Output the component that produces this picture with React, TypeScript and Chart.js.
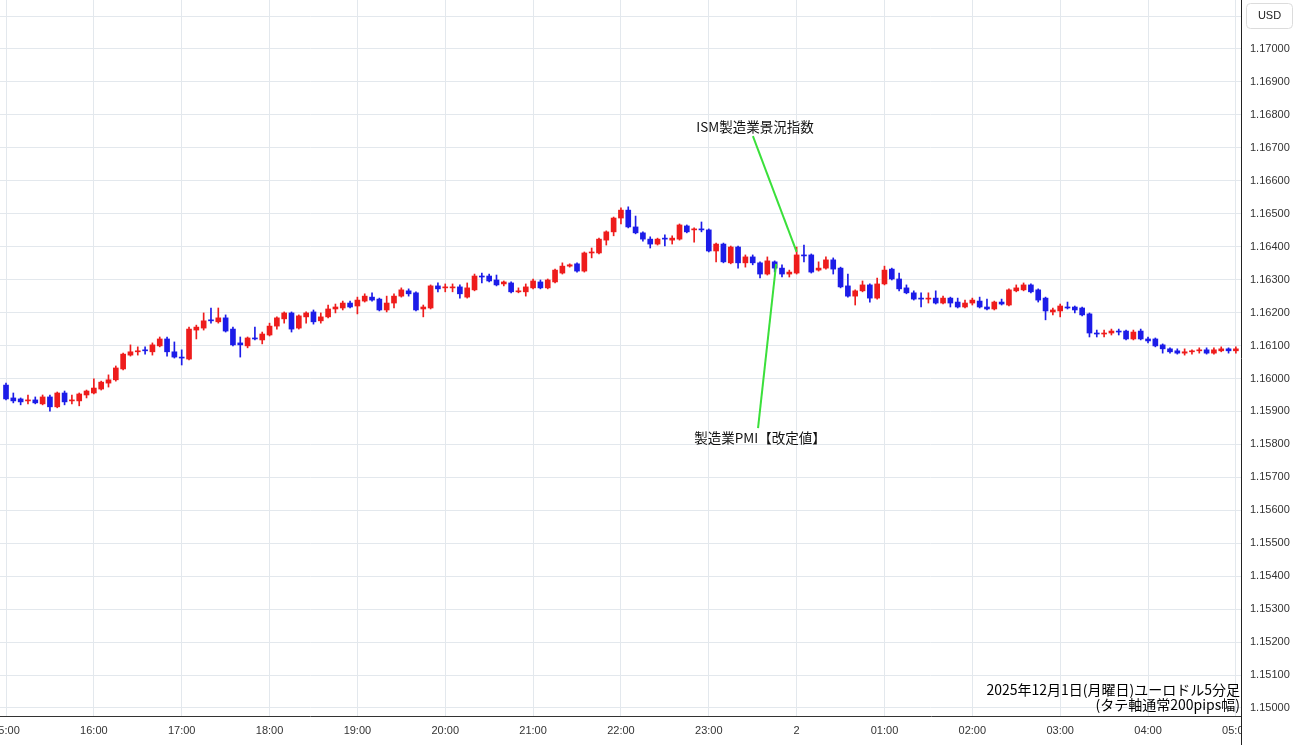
import { useEffect, useRef } from 'react';
import { Chart, registerables } from 'chart.js';

Chart.register(...registerables);

// EUR/USD 5-minute candles, 2025-12-01 15:00 -> 12-02 05:00 (index 0 = 15:00)
const opens = [
  1.15980, 1.15941, 1.15938, 1.15932, 1.15935, 1.15923, 1.15944, 1.15914, 1.15956, 1.15932, 1.15932, 1.15950,
  1.15956, 1.15968, 1.15986, 1.15996, 1.16029, 1.16071, 1.16081, 1.16087, 1.16081, 1.16099, 1.16120, 1.16081,
  1.16065, 1.16059, 1.16147, 1.16153, 1.16178, 1.16172, 1.16184, 1.16150, 1.16108, 1.16099, 1.16123, 1.16117,
  1.16132, 1.16159, 1.16181, 1.16199, 1.16153, 1.16187, 1.16202, 1.16175, 1.16187, 1.16211, 1.16214, 1.16229,
  1.16220, 1.16235, 1.16247, 1.16241, 1.16208, 1.16229, 1.16250, 1.16266, 1.16260, 1.16211, 1.16214, 1.16281,
  1.16275, 1.16275, 1.16278, 1.16247, 1.16269, 1.16311, 1.16311, 1.16299, 1.16287, 1.16290, 1.16263, 1.16263,
  1.16275, 1.16293, 1.16275, 1.16293, 1.16320, 1.16341, 1.16348, 1.16326, 1.16381, 1.16381, 1.16420, 1.16445,
  1.16487, 1.16511, 1.16460, 1.16442, 1.16423, 1.16408, 1.16426, 1.16420, 1.16423, 1.16463, 1.16451, 1.16454,
  1.16451, 1.16387, 1.16408, 1.16351, 1.16399, 1.16351, 1.16369, 1.16351, 1.16317, 1.16354, 1.16335, 1.16317,
  1.16320, 1.16375, 1.16375, 1.16329, 1.16335, 1.16360, 1.16335, 1.16281, 1.16250, 1.16266, 1.16284, 1.16244,
  1.16287, 1.16332, 1.16302, 1.16275, 1.16260, 1.16244, 1.16241, 1.16244, 1.16229, 1.16244, 1.16232, 1.16217,
  1.16229, 1.16235, 1.16217, 1.16211, 1.16232, 1.16223, 1.16266, 1.16269, 1.16284, 1.16269, 1.16244, 1.16202,
  1.16205, 1.16217, 1.16217, 1.16214, 1.16196, 1.16138, 1.16135, 1.16138, 1.16144, 1.16144, 1.16120, 1.16144,
  1.16120, 1.16120, 1.16102, 1.16090, 1.16084, 1.16077, 1.16081, 1.16084, 1.16087, 1.16077, 1.16084, 1.16090,
  1.16084,
];
const highs = [
  1.15986, 1.15956, 1.15941, 1.15950, 1.15944, 1.15950, 1.15950, 1.15959, 1.15962, 1.15950, 1.15956, 1.15965,
  1.15999, 1.15992, 1.16011, 1.16038, 1.16077, 1.16102, 1.16096, 1.16096, 1.16108, 1.16126, 1.16126, 1.16111,
  1.16087, 1.16156, 1.16162, 1.16199, 1.16214, 1.16214, 1.16193, 1.16156, 1.16126, 1.16126, 1.16156, 1.16141,
  1.16168, 1.16187, 1.16202, 1.16202, 1.16193, 1.16202, 1.16208, 1.16199, 1.16223, 1.16226, 1.16235, 1.16235,
  1.16247, 1.16257, 1.16260, 1.16244, 1.16250, 1.16257, 1.16275, 1.16272, 1.16263, 1.16223, 1.16284, 1.16290,
  1.16287, 1.16287, 1.16284, 1.16290, 1.16317, 1.16320, 1.16317, 1.16314, 1.16296, 1.16293, 1.16275, 1.16287,
  1.16302, 1.16299, 1.16302, 1.16332, 1.16351, 1.16348, 1.16351, 1.16384, 1.16396, 1.16426, 1.16448, 1.16490,
  1.16518, 1.16521, 1.16493, 1.16445, 1.16430, 1.16426, 1.16436, 1.16433, 1.16469, 1.16466, 1.16457, 1.16475,
  1.16454, 1.16411, 1.16411, 1.16402, 1.16402, 1.16375, 1.16375, 1.16354, 1.16369, 1.16357, 1.16345, 1.16329,
  1.16399, 1.16405, 1.16378, 1.16354, 1.16369, 1.16366, 1.16338, 1.16317, 1.16269, 1.16296, 1.16287, 1.16305,
  1.16341, 1.16335, 1.16320, 1.16284, 1.16266, 1.16260, 1.16260, 1.16266, 1.16250, 1.16247, 1.16244, 1.16238,
  1.16244, 1.16247, 1.16241, 1.16235, 1.16241, 1.16272, 1.16284, 1.16290, 1.16287, 1.16272, 1.16247, 1.16214,
  1.16226, 1.16232, 1.16220, 1.16217, 1.16199, 1.16147, 1.16147, 1.16150, 1.16150, 1.16147, 1.16147, 1.16150,
  1.16126, 1.16123, 1.16105, 1.16093, 1.16090, 1.16090, 1.16087, 1.16093, 1.16093, 1.16093, 1.16096, 1.16093,
  1.16096,
];
const lows = [
  1.15935, 1.15926, 1.15920, 1.15923, 1.15923, 1.15920, 1.15901, 1.15911, 1.15920, 1.15923, 1.15917, 1.15941,
  1.15953, 1.15965, 1.15974, 1.15992, 1.16026, 1.16068, 1.16071, 1.16074, 1.16071, 1.16096, 1.16068, 1.16062,
  1.16041, 1.16056, 1.16120, 1.16147, 1.16168, 1.16168, 1.16141, 1.16099, 1.16065, 1.16093, 1.16117, 1.16105,
  1.16129, 1.16150, 1.16168, 1.16141, 1.16150, 1.16168, 1.16165, 1.16168, 1.16184, 1.16199, 1.16208, 1.16214,
  1.16196, 1.16232, 1.16235, 1.16205, 1.16202, 1.16214, 1.16247, 1.16250, 1.16205, 1.16187, 1.16211, 1.16263,
  1.16263, 1.16263, 1.16244, 1.16244, 1.16266, 1.16290, 1.16293, 1.16281, 1.16281, 1.16260, 1.16260, 1.16250,
  1.16272, 1.16272, 1.16272, 1.16290, 1.16317, 1.16338, 1.16323, 1.16323, 1.16366, 1.16378, 1.16405, 1.16433,
  1.16469, 1.16457, 1.16439, 1.16417, 1.16396, 1.16405, 1.16402, 1.16408, 1.16420, 1.16442, 1.16414, 1.16445,
  1.16384, 1.16354, 1.16351, 1.16348, 1.16335, 1.16338, 1.16345, 1.16305, 1.16314, 1.16323, 1.16308, 1.16308,
  1.16317, 1.16354, 1.16320, 1.16326, 1.16332, 1.16317, 1.16275, 1.16247, 1.16223, 1.16263, 1.16232, 1.16241,
  1.16284, 1.16299, 1.16266, 1.16257, 1.16238, 1.16217, 1.16229, 1.16226, 1.16226, 1.16217, 1.16214, 1.16214,
  1.16223, 1.16214, 1.16208, 1.16208, 1.16223, 1.16220, 1.16263, 1.16266, 1.16260, 1.16232, 1.16178, 1.16193,
  1.16187, 1.16211, 1.16199, 1.16190, 1.16126, 1.16126, 1.16126, 1.16132, 1.16132, 1.16117, 1.16117, 1.16117,
  1.16108, 1.16096, 1.16077, 1.16077, 1.16074, 1.16071, 1.16074, 1.16077, 1.16074, 1.16074, 1.16081, 1.16077,
  1.16077,
];
const closes = [
  1.15938, 1.15932, 1.15929, 1.15935, 1.15926, 1.15944, 1.15914, 1.15956, 1.15929, 1.15935, 1.15953, 1.15962,
  1.15971, 1.15989, 1.15996, 1.16032, 1.16074, 1.16081, 1.16084, 1.16084, 1.16102, 1.16120, 1.16081, 1.16065,
  1.16062, 1.16150, 1.16156, 1.16175, 1.16175, 1.16184, 1.16144, 1.16102, 1.16102, 1.16123, 1.16120, 1.16135,
  1.16159, 1.16184, 1.16199, 1.16150, 1.16190, 1.16199, 1.16172, 1.16187, 1.16211, 1.16217, 1.16229, 1.16217,
  1.16238, 1.16250, 1.16238, 1.16208, 1.16229, 1.16250, 1.16269, 1.16257, 1.16208, 1.16217, 1.16281, 1.16272,
  1.16278, 1.16278, 1.16257, 1.16275, 1.16311, 1.16308, 1.16296, 1.16284, 1.16293, 1.16263, 1.16266, 1.16278,
  1.16296, 1.16275, 1.16299, 1.16329, 1.16341, 1.16345, 1.16326, 1.16381, 1.16384, 1.16423, 1.16445, 1.16487,
  1.16511, 1.16460, 1.16442, 1.16423, 1.16408, 1.16423, 1.16423, 1.16426, 1.16466, 1.16445, 1.16454, 1.16451,
  1.16387, 1.16408, 1.16354, 1.16399, 1.16351, 1.16369, 1.16351, 1.16317, 1.16357, 1.16335, 1.16317, 1.16323,
  1.16375, 1.16372, 1.16323, 1.16335, 1.16360, 1.16332, 1.16278, 1.16250, 1.16266, 1.16284, 1.16244, 1.16287,
  1.16329, 1.16302, 1.16272, 1.16260, 1.16241, 1.16241, 1.16244, 1.16229, 1.16244, 1.16229, 1.16217, 1.16229,
  1.16238, 1.16217, 1.16211, 1.16232, 1.16226, 1.16269, 1.16275, 1.16284, 1.16263, 1.16238, 1.16205, 1.16208,
  1.16220, 1.16214, 1.16208, 1.16193, 1.16138, 1.16135, 1.16138, 1.16144, 1.16141, 1.16120, 1.16141, 1.16120,
  1.16114, 1.16099, 1.16090, 1.16081, 1.16077, 1.16081, 1.16084, 1.16087, 1.16077, 1.16087, 1.16090, 1.16084,
  1.16090,
];

const hourTickIndex = [0, 12, 24, 36, 48, 60, 72, 84, 96, 108, 120, 132, 144, 156, 168];
const hourTickLabels = ['15:00', '16:00', '17:00', '18:00', '19:00', '20:00', '21:00', '22:00', '23:00', '2', '01:00', '02:00', '03:00', '04:00', '05:00'];
const priceTicks = [
  1.150, 1.151, 1.152, 1.153, 1.154, 1.155, 1.156, 1.157, 1.158, 1.159, 1.160,
  1.161, 1.162, 1.163, 1.164, 1.165, 1.166, 1.167, 1.168, 1.169, 1.170, 1.171,
];

// event annotations: label, text anchor (candle index, price), target (candle index, price)
const eventLabels = ['ISM製造業景況指数', '製造業PMI【改定値】'];
const eventTextIndex = [102.3, 103.0];
const eventTextPrice = [1.16763, 1.15819];
const eventTargetIndex = [108, 105.2];
const eventTargetPrice = [1.16384, 1.16348];

const captionLines = ['2025年12月1日(月曜日)ユーロドル5分足', '(タテ軸通常200pips幅)'];
const currencyLabel = 'USD';

const UP = '#ee1c1c';
const DOWN = '#1c1ce8';
const GRID = '#e3e8ed';
const TICK_FONT = { family: '"Liberation Sans", Arial, sans-serif', size: 11 };
const JP_FONT = '"Noto Sans CJK JP", "Noto Sans", sans-serif';

export default function App() {
  const ref = useRef<HTMLCanvasElement>(null);

  useEffect(() => {
    document.body.style.margin = '0';
    const canvas = ref.current;
    if (!canvas) return;
    const colors = closes.map((c, i) => (c >= opens[i] ? UP : DOWN));

    const overlay = {
      id: 'overlay',
      afterDatasetsDraw(chart: any) {
        const { ctx, scales } = chart;
        const xs = scales.x;
        const ys = scales.y;
        ctx.save();
        for (let i = 0; i < eventLabels.length; i++) {
          const tx = xs.getPixelForValue(eventTextIndex[i]);
          const ty = ys.getPixelForValue(eventTextPrice[i]);
          const px = xs.getPixelForValue(eventTargetIndex[i]);
          const py = ys.getPixelForValue(eventTargetPrice[i]);
          const below = py > ty;
          ctx.strokeStyle = '#3ae03a';
          ctx.lineWidth = 2;
          ctx.beginPath();
          ctx.moveTo(tx - 2, below ? ty + 9 : ty - 10);
          ctx.lineTo(px, py);
          ctx.stroke();
          ctx.fillStyle = '#111';
          ctx.font = `13.5px ${JP_FONT}`;
          ctx.textAlign = 'center';
          ctx.textBaseline = 'middle';
          ctx.fillText(eventLabels[i], tx, ty);
        }
        ctx.restore();
      },
      afterDraw(chart: any) {
        const { ctx, chartArea, width, height } = chart;
        ctx.save();
        // clip x labels beyond the plot's right edge
        ctx.fillStyle = '#fff';
        ctx.fillRect(chartArea.right + 1, chartArea.bottom + 1, width - chartArea.right, height - chartArea.bottom);
        ctx.strokeStyle = '#222';
        ctx.lineWidth = 1;
        ctx.beginPath();
        ctx.moveTo(chartArea.right + 0.5, chartArea.bottom);
        ctx.lineTo(chartArea.right + 0.5, height);
        ctx.stroke();
        // currency box
        const bx = chartArea.right + 5;
        const by = 3;
        const bw = 46;
        const bh = 25;
        ctx.fillStyle = '#fff';
        ctx.strokeStyle = '#dcdcdc';
        ctx.beginPath();
        ctx.roundRect(bx + 0.5, by + 0.5, bw, bh, 4);
        ctx.fill();
        ctx.stroke();
        ctx.fillStyle = '#222';
        ctx.font = `11px ${TICK_FONT.family}`;
        ctx.textAlign = 'center';
        ctx.textBaseline = 'middle';
        ctx.fillText(currencyLabel, bx + bw / 2 + 0.5, by + bh / 2 + 0.5);
        // caption
        ctx.fillStyle = '#000';
        ctx.font = `14px ${JP_FONT}`;
        ctx.textAlign = 'right';
        ctx.fillText(captionLines[0], chartArea.right - 1, 690);
        ctx.fillText(captionLines[1], chartArea.right - 1, 705);
        ctx.restore();
      },
    };

    const chart = new Chart(canvas, {
      type: 'bar',
      data: {
        datasets: [
          {
            data: opens.map((o, i) => ({ x: i, y: [o, closes[i]] })) as any,
            backgroundColor: colors,
            barThickness: 5,
            minBarLength: 1,
            grouped: false,
          } as any,
          {
            data: lows.map((l, i) => ({ x: i, y: [l, highs[i]] })) as any,
            backgroundColor: colors,
            barThickness: 1,
            grouped: false,
          } as any,
        ],
      },
      options: {
        responsive: false,
        animation: false,
        layout: { padding: 0 },
        plugins: { legend: { display: false }, tooltip: { enabled: false }, title: { display: false } },
        scales: {
          x: {
            type: 'linear',
            offset: false,
            min: -0.82,
            max: 168.7,
            afterBuildTicks: (s: any) => {
              s.ticks = hourTickIndex.map((v) => ({ value: v }));
            },
            afterFit: (s: any) => {
              s.height = 29;
              s.paddingLeft = 0;
              s.paddingRight = 0;
            },
            ticks: {
              autoSkip: false,
              maxRotation: 0,
              padding: 8,
              color: '#333',
              font: TICK_FONT,
              callback: (_v: any, idx: number) => hourTickLabels[idx],
            },
            grid: { color: GRID, drawTicks: false, offset: false },
            border: { color: '#333' },
          },
          y: {
            position: 'right',
            min: 1.149757,
            max: 1.171487,
            afterBuildTicks: (s: any) => {
              s.ticks = priceTicks.map((v) => ({ value: v }));
            },
            afterFit: (s: any) => {
              s.width = 59;
              s.paddingTop = 0;
              s.paddingBottom = 0;
            },
            ticks: {
              padding: 9,
              color: '#333',
              font: TICK_FONT,
              callback: (v: any) => Number(v).toFixed(5),
            },
            grid: { color: GRID, drawTicks: false },
            border: { color: '#222' },
          },
        },
      } as any,
      plugins: [overlay],
    });
    return () => chart.destroy();
  }, []);

  return <canvas ref={ref} width={1300} height={745} style={{ display: 'block' }} />;
}
